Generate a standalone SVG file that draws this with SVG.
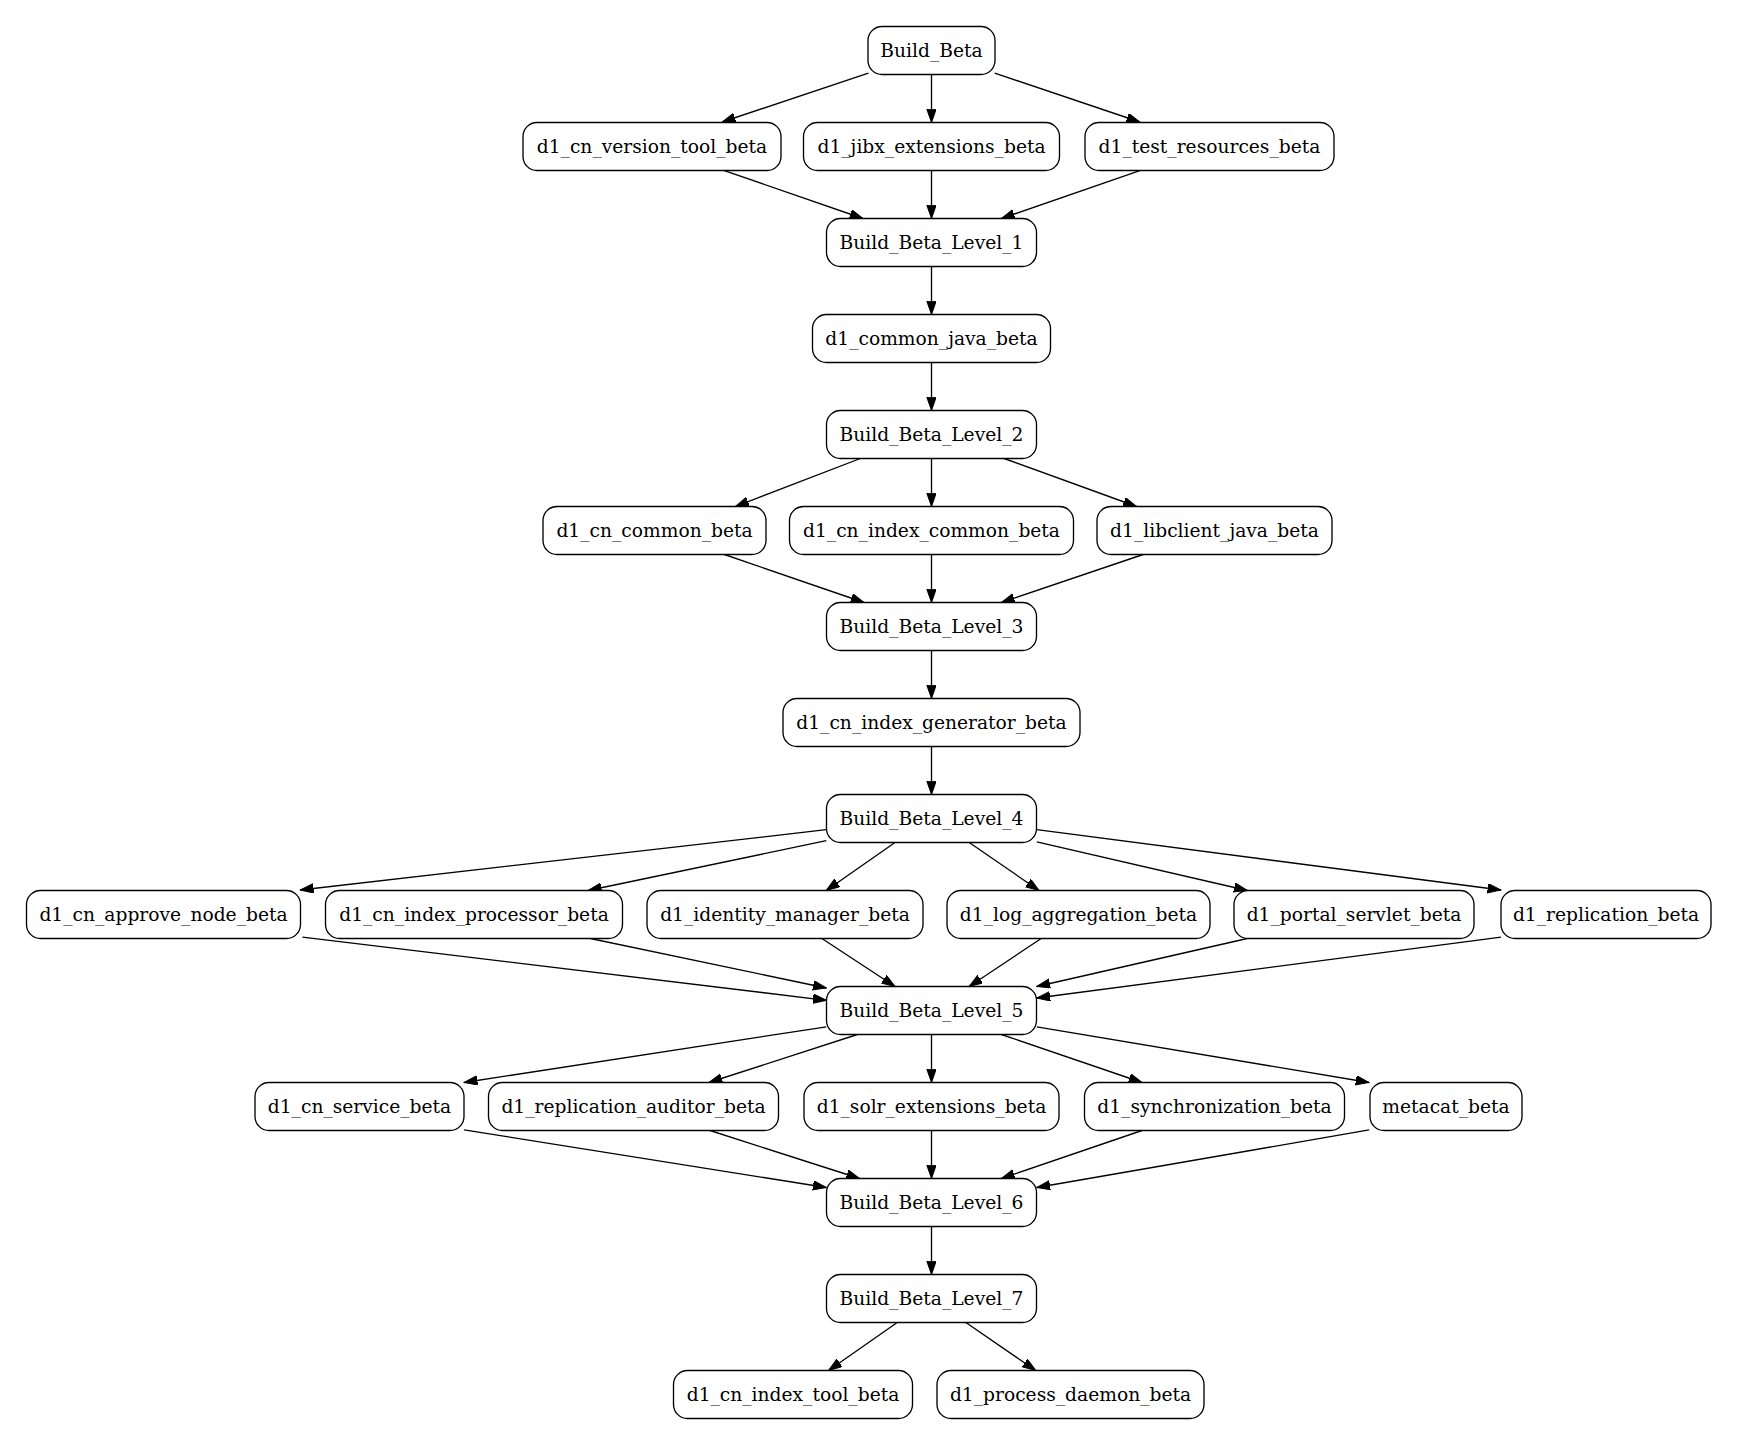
<svg xmlns="http://www.w3.org/2000/svg" width="1737" height="1445" viewBox="0 0 1737 1445">
<style>
.n rect{fill:#fff;stroke:#000;stroke-width:1.33}
.n text{font-family:"DejaVu Serif","Liberation Serif",serif;font-size:18.67px;text-anchor:middle;fill:#000}
#edges line{stroke:#000;stroke-width:1.33;marker-end:url(#a)}
</style>
<defs>
<marker id="a" markerUnits="userSpaceOnUse" markerWidth="14" markerHeight="10" refX="13.3" refY="4.67" orient="auto"><path d="M0,0L13.3,4.67L0,9.33z" fill="#000" stroke="#000" stroke-width="1"/></marker>
</defs>
<rect width="1737" height="1445" fill="#fff"/>
<g id="edges">
<line x1="868.4" y1="73.1" x2="722.2" y2="122"/>
<line x1="931.5" y1="74.5" x2="931.5" y2="122.5"/>
<line x1="994.7" y1="73.1" x2="1139.8" y2="122"/>
<line x1="724.4" y1="170.6" x2="862.9" y2="218.5"/>
<line x1="931.5" y1="170.5" x2="931.5" y2="218.5"/>
<line x1="1139.8" y1="170.6" x2="1001.4" y2="218.5"/>
<line x1="931.5" y1="266.5" x2="931.5" y2="314.5"/>
<line x1="931.5" y1="362.5" x2="931.5" y2="410.5"/>
<line x1="862.9" y1="457.5" x2="735.5" y2="506.5"/>
<line x1="931.5" y1="458.5" x2="931.5" y2="506.5"/>
<line x1="1001.4" y1="457.5" x2="1136.5" y2="506.5"/>
<line x1="724.4" y1="554.5" x2="864" y2="602.5"/>
<line x1="931.5" y1="554.5" x2="931.5" y2="602.5"/>
<line x1="1143.1" y1="554.5" x2="1001.4" y2="602.5"/>
<line x1="931.5" y1="650.5" x2="931.5" y2="698.5"/>
<line x1="931.5" y1="746.5" x2="931.5" y2="794.5"/>
<line x1="826.3" y1="829.7" x2="300.2" y2="890"/>
<line x1="826.3" y1="840.7" x2="588.2" y2="890.5"/>
<line x1="895" y1="842.5" x2="826.3" y2="890.5"/>
<line x1="969.2" y1="842.5" x2="1039" y2="890.5"/>
<line x1="1036.8" y1="841.9" x2="1247.3" y2="890.5"/>
<line x1="1036.8" y1="829.7" x2="1501" y2="890"/>
<line x1="302.4" y1="937.1" x2="826.3" y2="1000.3"/>
<line x1="590.4" y1="938.5" x2="826.3" y2="988"/>
<line x1="821.9" y1="938.5" x2="895" y2="986.5"/>
<line x1="1041.2" y1="938.5" x2="969.2" y2="986.5"/>
<line x1="1247.3" y1="938.5" x2="1036.8" y2="986.5"/>
<line x1="1501" y1="937.1" x2="1036.8" y2="998"/>
<line x1="826.3" y1="1026.8" x2="464.1" y2="1082.5"/>
<line x1="857.4" y1="1034.5" x2="708.9" y2="1082.5"/>
<line x1="931.5" y1="1034.5" x2="931.5" y2="1082.5"/>
<line x1="1001.4" y1="1034.5" x2="1142" y2="1082.5"/>
<line x1="1036.8" y1="1026.8" x2="1369.1" y2="1082.5"/>
<line x1="464.1" y1="1129.9" x2="826.3" y2="1187.5"/>
<line x1="710" y1="1130.5" x2="859.6" y2="1178.5"/>
<line x1="931.5" y1="1130.5" x2="931.5" y2="1178.5"/>
<line x1="1142" y1="1130.5" x2="1001.4" y2="1178.5"/>
<line x1="1369.1" y1="1129.9" x2="1036.8" y2="1187.5"/>
<line x1="931.5" y1="1226.5" x2="931.5" y2="1274.5"/>
<line x1="897.2" y1="1322.5" x2="828.6" y2="1370.5"/>
<line x1="965.9" y1="1322.5" x2="1035.7" y2="1370.5"/>
</g>
<g id="Build_Beta" class="n"><rect x="868" y="26.5" width="127" height="48" rx="14"/><text x="931.5" y="57">Build_Beta</text></g>
<g id="d1_cn_version_tool_beta" class="n"><rect x="523" y="122.5" width="258" height="48" rx="14"/><text x="652" y="153">d1_cn_version_tool_beta</text></g>
<g id="d1_jibx_extensions_beta" class="n"><rect x="803.5" y="122.5" width="256" height="48" rx="14"/><text x="931.5" y="153">d1_jibx_extensions_beta</text></g>
<g id="d1_test_resources_beta" class="n"><rect x="1085" y="122.5" width="249" height="48" rx="14"/><text x="1209.5" y="153">d1_test_resources_beta</text></g>
<g id="Build_Beta_Level_1" class="n"><rect x="826.5" y="218.5" width="210" height="48" rx="14"/><text x="931.5" y="249">Build_Beta_Level_1</text></g>
<g id="d1_common_java_beta" class="n"><rect x="812.5" y="314.5" width="238" height="48" rx="14"/><text x="931.5" y="345">d1_common_java_beta</text></g>
<g id="Build_Beta_Level_2" class="n"><rect x="826.5" y="410.5" width="210" height="48" rx="14"/><text x="931.5" y="441">Build_Beta_Level_2</text></g>
<g id="d1_cn_common_beta" class="n"><rect x="543" y="506.5" width="223" height="48" rx="14"/><text x="654.5" y="537">d1_cn_common_beta</text></g>
<g id="d1_cn_index_common_beta" class="n"><rect x="789.5" y="506.5" width="284" height="48" rx="14"/><text x="931.5" y="537">d1_cn_index_common_beta</text></g>
<g id="d1_libclient_java_beta" class="n"><rect x="1097" y="506.5" width="235" height="48" rx="14"/><text x="1214.5" y="537">d1_libclient_java_beta</text></g>
<g id="Build_Beta_Level_3" class="n"><rect x="826.5" y="602.5" width="210" height="48" rx="14"/><text x="931.5" y="633">Build_Beta_Level_3</text></g>
<g id="d1_cn_index_generator_beta" class="n"><rect x="783" y="698.5" width="297" height="48" rx="14"/><text x="931.5" y="729">d1_cn_index_generator_beta</text></g>
<g id="Build_Beta_Level_4" class="n"><rect x="826.5" y="794.5" width="210" height="48" rx="14"/><text x="931.5" y="825">Build_Beta_Level_4</text></g>
<g id="d1_cn_approve_node_beta" class="n"><rect x="26.5" y="890.5" width="274" height="48" rx="14"/><text x="163.5" y="921">d1_cn_approve_node_beta</text></g>
<g id="d1_cn_index_processor_beta" class="n"><rect x="325.5" y="890.5" width="297" height="48" rx="14"/><text x="474" y="921">d1_cn_index_processor_beta</text></g>
<g id="d1_identity_manager_beta" class="n"><rect x="647" y="890.5" width="276" height="48" rx="14"/><text x="785" y="921">d1_identity_manager_beta</text></g>
<g id="d1_log_aggregation_beta" class="n"><rect x="947" y="890.5" width="263" height="48" rx="14"/><text x="1078.5" y="921">d1_log_aggregation_beta</text></g>
<g id="d1_portal_servlet_beta" class="n"><rect x="1234" y="890.5" width="240" height="48" rx="14"/><text x="1354" y="921">d1_portal_servlet_beta</text></g>
<g id="d1_replication_beta" class="n"><rect x="1501" y="890.5" width="210" height="48" rx="14"/><text x="1606" y="921">d1_replication_beta</text></g>
<g id="Build_Beta_Level_5" class="n"><rect x="826.5" y="986.5" width="210" height="48" rx="14"/><text x="931.5" y="1017">Build_Beta_Level_5</text></g>
<g id="d1_cn_service_beta" class="n"><rect x="255" y="1082.5" width="209" height="48" rx="14"/><text x="359.5" y="1113">d1_cn_service_beta</text></g>
<g id="d1_replication_auditor_beta" class="n"><rect x="488.5" y="1082.5" width="290" height="48" rx="14"/><text x="633.5" y="1113">d1_replication_auditor_beta</text></g>
<g id="d1_solr_extensions_beta" class="n"><rect x="804" y="1082.5" width="255" height="48" rx="14"/><text x="931.5" y="1113">d1_solr_extensions_beta</text></g>
<g id="d1_synchronization_beta" class="n"><rect x="1084.5" y="1082.5" width="260" height="48" rx="14"/><text x="1214.5" y="1113">d1_synchronization_beta</text></g>
<g id="metacat_beta" class="n"><rect x="1370" y="1082.5" width="152" height="48" rx="14"/><text x="1446" y="1113">metacat_beta</text></g>
<g id="Build_Beta_Level_6" class="n"><rect x="826.5" y="1178.5" width="210" height="48" rx="14"/><text x="931.5" y="1209">Build_Beta_Level_6</text></g>
<g id="Build_Beta_Level_7" class="n"><rect x="826.5" y="1274.5" width="210" height="48" rx="14"/><text x="931.5" y="1305">Build_Beta_Level_7</text></g>
<g id="d1_cn_index_tool_beta" class="n"><rect x="673.5" y="1370.5" width="239" height="48" rx="14"/><text x="793" y="1401">d1_cn_index_tool_beta</text></g>
<g id="d1_process_daemon_beta" class="n"><rect x="937" y="1370.5" width="267" height="48" rx="14"/><text x="1070.5" y="1401">d1_process_daemon_beta</text></g>
</svg>
